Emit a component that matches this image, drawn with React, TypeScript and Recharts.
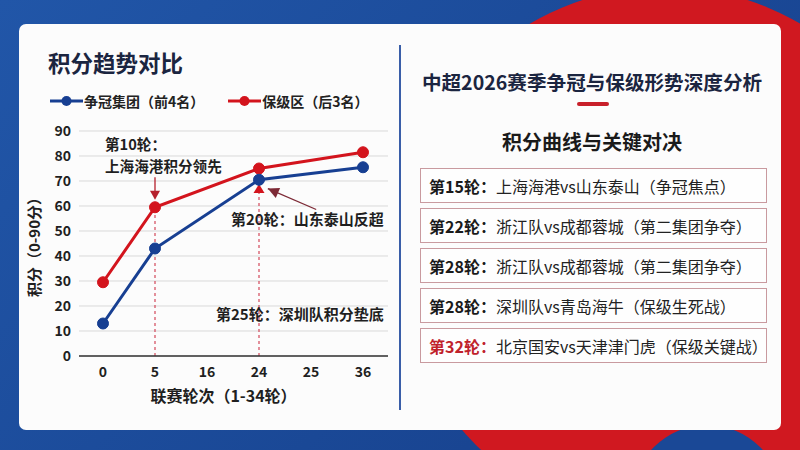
import React from 'react';
import { LineChart, Line, XAxis, YAxis, CartesianGrid, ReferenceLine } from 'recharts';

const rounds = ['0', '5', '16', '24', '25', '36'];
const titleRace = [13, 43, null, 70.5, null, 75.5];
const relegation = [29.5, 59.5, null, 75, null, 81.5];
const yTicks = [0, 10, 20, 30, 40, 50, 60, 70, 80, 90];

const seriesNames = ['争冠集团（前4名）', '保级区（后3名）'];
const seriesColors = ['#173f92', '#d3141d'];

const matchRounds = ['第15轮：', '第22轮：', '第28轮：', '第28轮：', '第32轮：'];
const matchups = [
  '上海海港vs山东泰山（争冠焦点）',
  '浙江队vs成都蓉城（第二集团争夺）',
  '浙江队vs成都蓉城（第二集团争夺）',
  '深圳队vs青岛海牛（保级生死战）',
  '北京国安vs天津津门虎（保级关键战）',
];

const data = rounds.map((r, i) => ({ round: r, top: titleRace[i], bottom: relegation[i] }));

const FONT = '"Noto Sans CJK SC", "Noto Sans", sans-serif';

// arrow head pointing from (x1,y1) towards (x2,y2)
function head(x1: number, y1: number, x2: number, y2: number, len: number, half: number) {
  const a = Math.atan2(y2 - y1, x2 - x1);
  const bx = x2 - Math.cos(a) * len;
  const by = y2 - Math.sin(a) * len;
  const px = -Math.sin(a) * half;
  const py = Math.cos(a) * half;
  return `${x2},${y2} ${bx + px},${by + py} ${bx - px},${by - py}`;
}

const SolidArrow = (p: any) => (
  <g>
    <line x1={p.x1} y1={p.y1} x2={p.x2} y2={p.y2 - 7} stroke="#b5202c" strokeWidth={1.3} />
    <polygon points={head(p.x1, p.y1, p.x2, p.y2, 9, 5)} fill="#b5202c" />
  </g>
);

const DashedArrowUp = (p: any) => (
  <g>
    <line x1={p.x1} y1={p.y1} x2={p.x2} y2={p.y2} stroke="#d2485a" strokeWidth={1.2} strokeDasharray="3 3" />
    <polygon points={head(p.x1, p.y1, p.x2, p.y2, 9, 5.5)} fill="#d3141d" />
  </g>
);

const DashedLine = (p: any) => (
  <line x1={p.x1} y1={p.y1} x2={p.x2} y2={p.y2} stroke="#d2485a" strokeWidth={1.2} strokeDasharray="3 3" />
);

const PointerArrow = (p: any) => {
  const sx = p.x1 + (p.x1 - p.x2) * 0.1;
  const sy = p.y1 + (p.y1 - p.y2) * 0.1;
  const ex = p.x1 + (p.x2 - p.x1) * 0.83;
  const ey = p.y1 + (p.y2 - p.y1) * 0.83;
  return (
    <g>
      <line x1={sx} y1={sy} x2={ex} y2={ey} stroke="#7d2a36" strokeWidth={1.3} />
      <polygon points={head(sx, sy, ex, ey, 11, 5.5)} fill="#7d2a36" />
    </g>
  );
};

const YLabel = ({ viewBox }: any) => {
  const cx = viewBox.x - 6;
  const cy = viewBox.y + viewBox.height / 2;
  return (
    <text x={cx} y={cy} transform={`rotate(-90 ${cx} ${cy})`} textAnchor="middle" dominantBaseline="central"
      fill="#1f1f1f" fontSize={15} fontWeight={700} fontFamily={FONT}>
      积分（0-90分）
    </text>
  );
};

const XLabel = ({ viewBox }: any) => (
  <text x={viewBox.x + viewBox.width / 2 - 10} y={viewBox.y + 39} textAnchor="middle" dominantBaseline="central"
    fill="#1f1f1f" fontSize={16} fontWeight={700} fontFamily={FONT}>
    联赛轮次（1-34轮）
  </text>
);

const abs = (s: React.CSSProperties): React.CSSProperties => ({ position: 'absolute', ...s });

export default function App() {
  const tick = { fill: '#1f1f1f', fontSize: 14, fontWeight: 700, fontFamily: FONT };
  return (
    <div style={abs({ left: 0, top: 0, width: 800, height: 450, overflow: 'hidden', fontFamily: FONT,
      background: 'linear-gradient(135deg, #2156a8 0%, #1a4896 60%, #173f8a 100%)' })}>
      <div style={abs({ left: 665 - 268, top: 255 - 268, width: 536, height: 536, borderRadius: '50%', background: '#d01820' })} />
      <div style={abs({ left: 707 - 75, top: 500 - 75, width: 150, height: 150, borderRadius: '50%', background: '#1a4896' })} />
      <div style={abs({ left: 19, top: 24, width: 762, height: 406, borderRadius: 7, background: '#fcfcfc' })} />
      <div style={abs({ left: 399, top: 45, width: 2, height: 365, background: '#3a5ea8' })} />

      {/* left panel */}
      <div style={abs({ left: 48, top: 47, fontSize: 22.5, fontWeight: 700, color: '#1b2540', lineHeight: '30px' })}>积分趋势对比</div>
      <div style={abs({ left: 50, top: 91, display: 'flex', alignItems: 'center', height: 20 })}>
        {seriesNames.map((n, i) => (
          <div key={n} style={{ display: 'flex', alignItems: 'center', marginRight: i === 0 ? 24 : 0 }}>
            <svg width={33} height={12}>
              <line x1={0} y1={6} x2={33} y2={6} stroke={seriesColors[i]} strokeWidth={3} />
              <circle cx={16.5} cy={6} r={5} fill={seriesColors[i]} />
            </svg>
            <span style={{ marginLeft: 1, fontSize: 14, fontWeight: 700, color: '#222' }}>{n}</span>
          </div>
        ))}
      </div>

      <div style={abs({ left: 0, top: 0 })}>
        <LineChart width={400} height={450} data={data} margin={{ top: 131, right: 12, bottom: 64, left: 39 }}>
          <CartesianGrid vertical={false} stroke="#d9d9d9" strokeWidth={1} />
          <XAxis dataKey="round" tickLine={false} axisLine={{ stroke: '#333', strokeWidth: 1.5 }} tick={tick}
            tickMargin={5} padding={{ left: 24, right: 25 }} label={XLabel} />
          <YAxis domain={[0, 90]} ticks={yTicks} width={40} axisLine={false} tickLine={false} tick={tick}
            interval={0} label={YLabel} />
          <ReferenceLine segment={[{ x: '5', y: 0 }, { x: '5', y: 58 }]} shape={DashedLine} />
          <ReferenceLine segment={[{ x: '24', y: 0 }, { x: '24', y: 68.8 }]} shape={DashedArrowUp} />
          <ReferenceLine segment={[{ x: '5', y: 71.5 }, { x: '5', y: 62.5 }]} shape={SolidArrow} />
          <ReferenceLine segment={[{ x: '25', y: 59.5 }, { x: '24', y: 68.5 }]} shape={PointerArrow} />
          <Line dataKey="bottom" name={seriesNames[1]} stroke={seriesColors[1]} strokeWidth={3} connectNulls
            dot={{ r: 5.5, fill: seriesColors[1], stroke: seriesColors[1], strokeWidth: 1 }} isAnimationActive={false} />
          <Line dataKey="top" name={seriesNames[0]} stroke={seriesColors[0]} strokeWidth={3} connectNulls
            dot={{ r: 5.5, fill: seriesColors[0], stroke: seriesColors[0], strokeWidth: 1 }} isAnimationActive={false} />
        </LineChart>
      </div>

      <div style={abs({ left: 105, top: 133, fontSize: 14.6, fontWeight: 700, color: '#1f1f1f', lineHeight: '22px' })}>
        第10轮：<br />上海海港积分领先
      </div>
      <div style={abs({ left: 231, top: 208, fontSize: 15, fontWeight: 700, color: '#1f1f1f', lineHeight: '22px', whiteSpace: 'nowrap' })}>
        第20轮：山东泰山反超
      </div>
      <div style={abs({ left: 216, top: 303, fontSize: 15, fontWeight: 700, color: '#1f1f1f', lineHeight: '22px', whiteSpace: 'nowrap' })}>
        第25轮：深圳队积分垫底
      </div>

      {/* right panel */}
      <div style={abs({ left: 410, top: 68, width: 364, textAlign: 'center', fontSize: 19.6, fontWeight: 700, color: '#1b2540', lineHeight: '28px', whiteSpace: 'nowrap' })}>
        中超2026赛季争冠与保级形势深度分析
      </div>
      <div style={abs({ left: 577, top: 102, width: 32, height: 4, borderRadius: 2, background: '#c8202a' })} />
      <div style={abs({ left: 410, top: 128, width: 364, textAlign: 'center', fontSize: 20, fontWeight: 700, color: '#1a1a1a', lineHeight: '28px' })}>
        积分曲线与关键对决
      </div>
      {matchRounds.map((r, i) => (
        <div key={i} style={abs({ left: 420, top: 168 + i * 40, width: 347, height: 35, boxSizing: 'border-box',
          border: '1.5px solid #c99a9f', background: '#fefefe', display: 'flex', alignItems: 'center', paddingLeft: 8,
          fontSize: 16, whiteSpace: 'nowrap' })}>
          <span style={{ fontWeight: 700, color: i === matchRounds.length - 1 ? '#c0222b' : '#1a1a1a' }}>{r}</span>
          <span style={{ color: '#222' }}>{matchups[i]}</span>
        </div>
      ))}
    </div>
  );
}
